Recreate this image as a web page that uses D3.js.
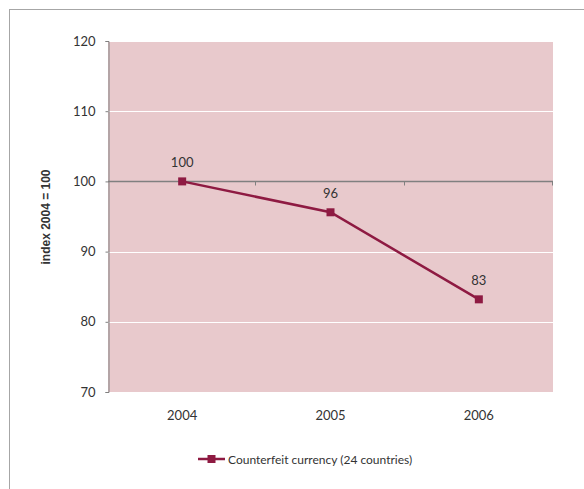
<!DOCTYPE html>
<html><head><meta charset="utf-8">
<script src="https://cdn.jsdelivr.net/npm/d3@7"></script>
<style>body{margin:0;background:#fff}svg{display:block}text{font-family:Lato,"Open Sans",sans-serif;fill:#333}</style>
</head><body><svg id="c" width="584" height="489"></svg>
<script>
const years = ["2004","2005","2006"];
const values = [100, 95.6, 83.2];
const valueLabels = ["100","96","83"];
const yTicks = [70,80,90,100,110,120];
const seriesName = "Counterfeit currency (24 countries)";
const yTitle = "index 2004 = 100";

const svg = d3.select("#c");
const m = {l:108, r:553, t:41, b:392};
const lineColor = "#8e1a42";

svg.append("rect").attr("x",9.5).attr("y",9.5).attr("width",600).attr("height",600)
  .attr("fill","none").attr("stroke","#a6a6a6").attr("stroke-width",1);

const x = d3.scaleBand().domain(years).range([m.l,m.r]);
const y = d3.scaleLinear().domain([70,120]).range([m.b,m.t]);

svg.append("rect").attr("x",m.l).attr("y",m.t).attr("width",m.r-m.l).attr("height",m.b-m.t).attr("fill","#e8c9cc");

// gridlines
svg.append("g").selectAll("line").data(yTicks.filter(d=>d!==70 && d!==100)).join("line")
  .attr("x1",m.l).attr("x2",m.r).attr("y1",d=>Math.round(y(d))+0.5).attr("y2",d=>Math.round(y(d))+0.5)
  .attr("stroke","#fff").attr("stroke-width",1);

// y axis
const ya = svg.append("g").attr("transform",`translate(${m.l+0.5},0)`)
  .call(d3.axisLeft(y).tickValues(yTicks).tickSize(3).tickPadding(10));
ya.select(".domain").attr("stroke","#808080");
ya.selectAll(".tick line").attr("stroke","#808080");
ya.selectAll("text").style("font-size","13px").attr("fill","#333");

// x axis crossing at 100
const xa = svg.append("g").attr("transform",`translate(0,${Math.round(y(100))+0.5})`);
xa.append("line").attr("x1",m.l).attr("x2",m.r).attr("stroke","#808080").attr("stroke-width",1.5);
const bounds = years.slice(1).map(d=>x(d));
bounds.push(m.r);
xa.selectAll("line.tk").data(bounds).join("line").attr("class","tk")
  .attr("x1",d=>Math.round(d)-0.5).attr("x2",d=>Math.round(d)-0.5).attr("y1",0).attr("y2",4).attr("stroke","#808080");

// x labels low
svg.append("g").selectAll("text").data(years).join("text")
  .attr("x",d=>x(d)+x.bandwidth()/2).attr("y",420).attr("text-anchor","middle")
  .style("font-size","13px").text(d=>d);

// line
const pts = years.map((d,i)=>({yr:d,v:values[i],lab:valueLabels[i]}));
svg.append("path").datum(pts)
  .attr("d",d3.line().x(d=>x(d.yr)+x.bandwidth()/2).y(d=>y(d.v)))
  .attr("fill","none").attr("stroke",lineColor).attr("stroke-width",2.5);
svg.append("g").selectAll("rect").data(pts).join("rect")
  .attr("x",d=>x(d.yr)+x.bandwidth()/2-4).attr("y",d=>y(d.v)-4).attr("width",8).attr("height",8).attr("fill",lineColor);
svg.append("g").selectAll("text").data(pts).join("text")
  .attr("x",d=>x(d.yr)+x.bandwidth()/2).attr("y",d=>y(d.v)-14).attr("text-anchor","middle")
  .style("font-size","13px").text(d=>d.lab);

// y title
svg.append("text").attr("transform","translate(50,217) rotate(-90)").attr("text-anchor","middle")
  .style("font-family","'Liberation Sans Narrow','Liberation Sans',Arial,sans-serif").style("font-weight","bold")
  .style("font-size","12px").attr("fill","#222").text(yTitle);

// legend
const lg = svg.append("g").attr("transform","translate(198,459)");
lg.append("line").attr("x1",0).attr("x2",27).attr("stroke",lineColor).attr("stroke-width",2.5);
lg.append("rect").attr("x",9.5).attr("y",-4).attr("width",8).attr("height",8).attr("fill",lineColor);
lg.append("text").attr("x",30).attr("y",4.5).style("font-size","12px").text(seriesName);
</script></body></html>
